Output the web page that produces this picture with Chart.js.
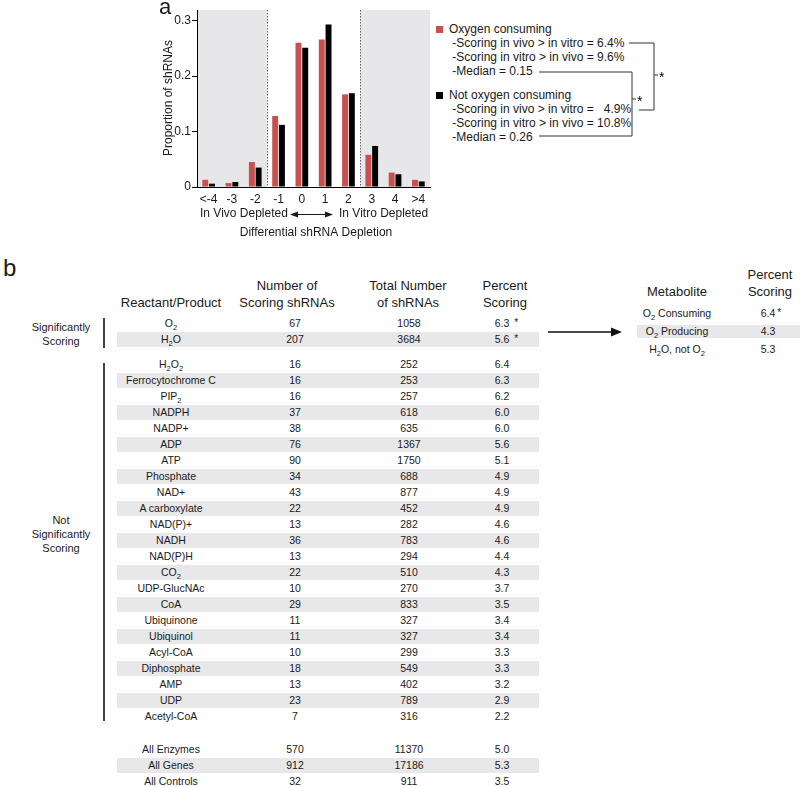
<script src="https://cdn.jsdelivr.net/npm/chart.js"></script>
<style>
    body {
        margin: 0;
        padding: 0;
        background: #fff;
    }
    #page {
        position: relative;
        width: 800px;
        height: 787px;
        background: #fff;
        font-family: 'Liberation Sans', Arial, sans-serif;
        color: #1a1a1a;
        overflow: hidden;
    }
    #hist {
        position: absolute;
        left: 140px;
        top: 0;
    }
    .abs { position: absolute; white-space: nowrap; }
    .legend { font-size: 12px; line-height: 14px; left: 449px; }
    .swatch { position: absolute; width: 7px; height: 7px; left: -13px; top: 4px; }
    .hdr { font-size: 13px; line-height: 17px; text-align: center; transform: translateX(-50%); }
    .cell { font-size: 10.5px; line-height: 15px; transform: translateX(-50%); }
    .band { position: absolute; background: #e8e8ea; }
    .grp { font-size: 11px; line-height: 14px; text-align: center; transform: translateX(-50%); }
    sub { font-size: 72%; vertical-align: -3px; line-height: 0; }
    .star { position: absolute; left: calc(100% + 5px); top: -2px; font-size: 10px; }
    .panel { font-size: 24px; }
    svg { position: absolute; left: 0; top: 0; }
</style>

<div id="page">
    <canvas id="hist" width="300" height="245"></canvas>

    <div class="abs legend" style="top:22px">
        <span class="swatch" style="background:#c8504f"></span>Oxygen consuming<br>
        &nbsp;-Scoring in vivo &gt; in vitro = 6.4%<br>
        &nbsp;-Scoring in vitro &gt; in vivo = 9.6%<br>
        &nbsp;-Median = 0.15
    </div>
    <div class="abs legend" style="top:88px">
        <span class="swatch" style="background:#000"></span>Not oxygen consuming<br>
        &nbsp;-Scoring in vivo &gt; in vitro = &nbsp;&nbsp;4.9%<br>
        &nbsp;-Scoring in vitro &gt; in vivo = 10.8%<br>
        &nbsp;-Median = 0.26
    </div>

    <div class="abs panel" style="left:3px; top:254px">b</div>

    <div id="tables"></div>

    <svg width="800" height="787">
        <g stroke="#333" stroke-width="1" fill="none">
            <polyline points="629,43 654,43 654,110 639,110" />
            <line x1="654" y1="75" x2="658" y2="75" />
            <polyline points="539,72 632,72 632,136 539,136" />
            <line x1="632" y1="99" x2="636" y2="99" />
        </g>
        <text x="659" y="82" font-size="14" font-family="Liberation Sans, Arial">*</text>
        <text x="637" y="106" font-size="14" font-family="Liberation Sans, Arial">*</text>
        <g stroke="#111" stroke-width="1.6">
            <line x1="104" y1="318" x2="104" y2="348" />
            <line x1="104" y1="363" x2="104" y2="721" />
            <line x1="548" y1="332" x2="613" y2="332" />
        </g>
        <polygon points="611,327.5 622,332 611,336.5" fill="#111" />
    </svg>
</div>

<script>
    // Panel a: histogram of differential depletion
    const bins = ['<-4', '-3', '-2', '-1', '0', '1', '2', '3', '4', '>4'];
    const oxygenConsuming = [0.013, 0.007, 0.045, 0.128, 0.260, 0.266, 0.167, 0.058, 0.026, 0.013];
    const notOxygenConsuming = [0.006, 0.009, 0.035, 0.112, 0.251, 0.293, 0.169, 0.074, 0.023, 0.010];
    const yTicks = [0, 0.1, 0.2, 0.3];

    // Panel b: reactant/product table
    const sigNames = ['O<sub>2</sub>', 'H<sub>2</sub>O'];
    const sigScoring = [67, 207];
    const sigTotal = [1058, 3684];
    const sigPercent = ['6.3', '5.6'];

    const notSigNames = ['H<sub>2</sub>O<sub>2</sub>', 'Ferrocytochrome C', 'PIP<sub>2</sub>', 'NADPH', 'NADP+', 'ADP', 'ATP',
        'Phosphate', 'NAD+', 'A carboxylate', 'NAD(P)+', 'NADH', 'NAD(P)H', 'CO<sub>2</sub>', 'UDP-GlucNAc', 'CoA',
        'Ubiquinone', 'Ubiquinol', 'Acyl-CoA', 'Diphosphate', 'AMP', 'UDP', 'Acetyl-CoA'];
    const notSigScoring = [16, 16, 16, 37, 38, 76, 90, 34, 43, 22, 13, 36, 13, 22, 10, 29, 11, 11, 10, 18, 13, 23, 7];
    const notSigTotal = [252, 253, 257, 618, 635, 1367, 1750, 688, 877, 452, 282, 783, 294, 510, 270, 833, 327, 327, 299, 549, 402, 789, 316];
    const notSigPercent = ['6.4', '6.3', '6.2', '6.0', '6.0', '5.6', '5.1', '4.9', '4.9', '4.9', '4.6', '4.6', '4.4', '4.3',
        '3.7', '3.5', '3.4', '3.4', '3.3', '3.3', '3.2', '2.9', '2.2'];

    const allNames = ['All Enzymes', 'All Genes', 'All Controls'];
    const allScoring = [570, 912, 32];
    const allTotal = [11370, 17186, 911];
    const allPercent = ['5.0', '5.3', '3.5'];

    const metabolites = ['O<sub>2</sub> Consuming', 'O<sub>2</sub> Producing', 'H<sub>2</sub>O, not O<sub>2</sub>'];
    const metabolitePercent = ['6.4', '4.3', '5.3'];
    const metaboliteStar = [true, false, false];

    // Gray side bands and dotted separators behind the bars
    const bandPlugin = {
        id: 'bands',
        beforeDraw(chart) {
            const { ctx, chartArea: a, scales: { x } } = chart;
            const leftCut = (x.getPixelForTick(2) + x.getPixelForTick(3)) / 2;
            const rightCut = (x.getPixelForTick(6) + x.getPixelForTick(7)) / 2;
            ctx.save();
            ctx.fillStyle = '#e7e7e9';
            ctx.fillRect(a.left, a.top, leftCut - a.left, a.bottom - a.top);
            ctx.fillRect(rightCut, a.top, a.right - rightCut, a.bottom - a.top);
            ctx.strokeStyle = '#444';
            ctx.lineWidth = 0.8;
            ctx.setLineDash([1.5, 1.5]);
            [leftCut, rightCut].forEach(px => {
                ctx.beginPath();
                ctx.moveTo(Math.round(px) + 0.5, a.top);
                ctx.lineTo(Math.round(px) + 0.5, a.bottom);
                ctx.stroke();
            });
            ctx.restore();
        },
        afterDraw(chart) {
            const { ctx } = chart;
            ctx.save();
            ctx.fillStyle = '#1a1a1a';
            ctx.font = '12px "Liberation Sans", Arial, sans-serif';
            ctx.textBaseline = 'middle';
            // y title
            ctx.save();
            ctx.translate(29, 98);
            ctx.rotate(-Math.PI / 2);
            ctx.textAlign = 'center';
            ctx.fillText('Proportion of shRNAs', 0, 0);
            ctx.restore();
            // direction labels
            ctx.textAlign = 'left';
            ctx.fillText('In Vivo Depleted', 60, 214);
            ctx.fillText('In Vitro Depleted', 199, 214);
            ctx.strokeStyle = '#1a1a1a';
            ctx.lineWidth = 1;
            ctx.beginPath();
            ctx.moveTo(152, 214.5);
            ctx.lineTo(191, 214.5);
            ctx.stroke();
            [[150, 1], [193, -1]].forEach(([tip, d]) => {
                ctx.beginPath();
                ctx.moveTo(tip, 214.5);
                ctx.lineTo(tip + 8 * d, 211.5);
                ctx.lineTo(tip + 8 * d, 217.5);
                ctx.closePath();
                ctx.fill();
            });
            ctx.textAlign = 'center';
            ctx.fillText('Differential shRNA Depletion', 176, 233);
            // panel letter
            ctx.font = '22px "Liberation Sans", Arial, sans-serif';
            ctx.textAlign = 'left';
            ctx.textBaseline = 'alphabetic';
            ctx.fillText('a', 19, 14);
            ctx.restore();
        }
    };

    new Chart(document.getElementById('hist').getContext('2d'), {
        type: 'bar',
        data: {
            labels: bins,
            datasets: [
                { label: 'Oxygen consuming', data: oxygenConsuming, backgroundColor: '#c8504f',
                  categoryPercentage: 0.58, barPercentage: 0.88 },
                { label: 'Not oxygen consuming', data: notOxygenConsuming, backgroundColor: '#000',
                  categoryPercentage: 0.58, barPercentage: 0.88 }
            ]
        },
        options: {
            responsive: false,
            animation: false,
            layout: { padding: { top: 10, right: 10, left: 0, bottom: 0 } },
            plugins: { legend: { display: false }, tooltip: { enabled: false } },
            scales: {
                x: {
                    grid: { display: false, drawTicks: false },
                    border: { color: '#000', width: 1 },
                    ticks: { color: '#1a1a1a', font: { size: 12, family: '"Liberation Sans", Arial' }, padding: 5, maxRotation: 0, autoSkip: false },
                    afterFit: s => { s.height = 58; }
                },
                y: {
                    min: 0,
                    max: 0.319,
                    grid: { drawOnChartArea: false, drawTicks: true, tickLength: 5, color: '#000' },
                    border: { color: '#000', width: 1 },
                    ticks: {
                        color: '#1a1a1a', padding: 1, font: { size: 12, family: '"Liberation Sans", Arial' },
                        callback: v => v === 0 ? '0' : v.toFixed(1)
                    },
                    afterBuildTicks: s => { s.ticks = yTicks.map(v => ({ value: v })); },
                    afterFit: s => { s.width = 57; }
                }
            }
        },
        plugins: [bandPlugin]
    });

    // Tables for panel b
    const tables = document.getElementById('tables');

    function place(cls, x, y, html, extra) {
        const el = document.createElement('div');
        el.className = 'abs ' + cls;
        el.style.left = x + 'px';
        el.style.top = y + 'px';
        el.innerHTML = html;
        if (extra) Object.assign(el.style, extra);
        tables.appendChild(el);
        return el;
    }

    function band(x1, x2, yc, h) {
        const el = document.createElement('div');
        el.className = 'band';
        el.style.left = x1 + 'px';
        el.style.width = (x2 - x1) + 'px';
        el.style.top = (yc - h / 2) + 'px';
        el.style.height = h + 'px';
        tables.appendChild(el);
    }

    const cols = [171, 295, 409, 502];

    function mainRows(names, scoring, total, percent, y0, shadeOdd, starred) {
        names.forEach((name, i) => {
            const yc = y0 + i * 16;
            if ((i % 2 === 1) === shadeOdd) band(117, 539, yc, 15);
            const vals = [name, scoring[i], total[i], percent[i]];
            vals.forEach((v, c) => {
                let html = String(v);
                if (c === 3 && starred) html = '<span style="position:relative">' + v + '<span class="star">*</span></span>';
                place('cell', cols[c], yc - 7.5, html);
            });
        });
    }

    // headers
    place('hdr', 171, 294, 'Reactant/Product');
    place('hdr', 287, 277, 'Number of<br>Scoring shRNAs');
    place('hdr', 408, 277, 'Total Number<br>of shRNAs');
    place('hdr', 505, 277, 'Percent<br>Scoring');

    mainRows(sigNames, sigScoring, sigTotal, sigPercent, 323, true, true);
    mainRows(notSigNames, notSigScoring, notSigTotal, notSigPercent, 364, true, false);
    mainRows(allNames, allScoring, allTotal, allPercent, 749, true, false);

    place('grp', 61, 320, 'Significantly<br>Scoring');
    place('grp', 61, 513, 'Not<br>Significantly<br>Scoring');

    // metabolite summary
    place('hdr', 677, 283, 'Metabolite');
    place('hdr', 770, 266, 'Percent<br>Scoring');
    metabolites.forEach((m, i) => {
        const yc = 313 + i * 18;
        if (i % 2 === 1) band(637, 800, yc, 13);
        place('cell', 677, yc - 7.5, m);
        const html = metaboliteStar[i]
            ? '<span style="position:relative">' + metabolitePercent[i] + '<span class="star" style="left:calc(100% + 2px)">*</span></span>'
            : metabolitePercent[i];
        place('cell', 768, yc - 7.5, html);
    });
</script>
